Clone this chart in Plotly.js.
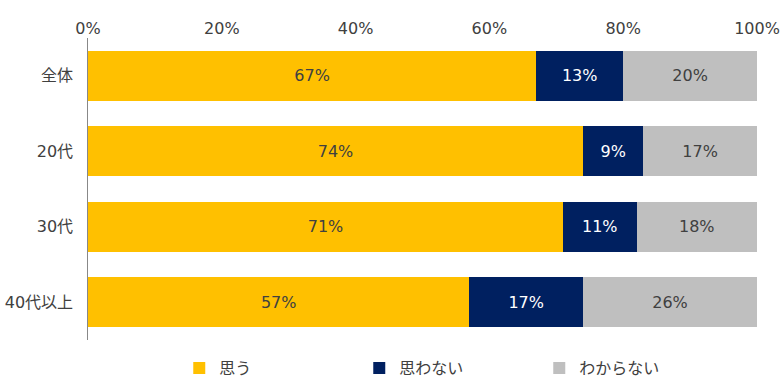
<!DOCTYPE html>
<html><head><meta charset="utf-8">
<script src="https://cdn.plot.ly/plotly-3.0.1.min.js"></script>
<style>html,body{margin:0;padding:0;background:#fff;}#c{width:782px;height:385px;}</style>
</head><body><div id="c"></div>
<script>
const categories = ['全体', '20代', '30代', '40代以上'];
const seriesNames = ['思う', '思わない', 'わからない'];
const omou = [67, 74, 71, 57];
const omowanai = [13, 9, 11, 17];
const wakaranai = [20, 17, 18, 26];
const tickVals = [0, 20, 40, 60, 80, 100];
const tickText = ['0%', '20%', '40%', '60%', '80%', '100%'];

const colors = ['#FFC000', '#002060', '#BFBFBF'];
const textColors = ['#404040', '#FFFFFF', '#404040'];
const font = '"DejaVu Sans", "Noto Sans CJK JP", sans-serif';

const data = [omou, omowanai, wakaranai].map((vals, i) => ({
  type: 'bar',
  orientation: 'h',
  name: seriesNames[i],
  y: categories,
  x: vals,
  text: vals.map(v => v + '%'),
  textposition: 'inside',
  insidetextanchor: 'middle',
  textfont: {color: textColors[i], size: 16, family: font},
  marker: {color: colors[i]},
  hoverinfo: 'none'
}));

const layout = {
  width: 782, height: 385,
  barmode: 'stack',
  bargap: 0.34,
  margin: {l: 88, r: 25, t: 38, b: 45},
  paper_bgcolor: '#fff', plot_bgcolor: '#fff',
  font: {family: font, color: '#404040', size: 16},
  xaxis: {
    range: [0, 100], side: 'top', tickvals: tickVals, ticktext: tickText,
    showgrid: false, zeroline: false, showline: false, ticks: '',
    tickfont: {size: 16, color: '#404040'}, fixedrange: true
  },
  yaxis: {
    autorange: 'reversed', showline: true, linecolor: '#888', linewidth: 1.5,
    ticks: '', showgrid: false, zeroline: false, ticksuffix: '  ',
    tickfont: {size: 16, color: '#404040'}, fixedrange: true
  },
  showlegend: true,
  legend: {
    orientation: 'h', x: 0.54, xanchor: 'center',
    yref: 'container', y: -0.012, yanchor: 'bottom',
    traceorder: 'normal', font: {size: 16, color: '#404040'},
    itemwidth: 30, entrywidth: 135, itemclick: false, tracegroupgap: 0
  }
};

Plotly.newPlot('c', data, layout, {displayModeBar: false, staticPlot: true});
</script></body></html>
